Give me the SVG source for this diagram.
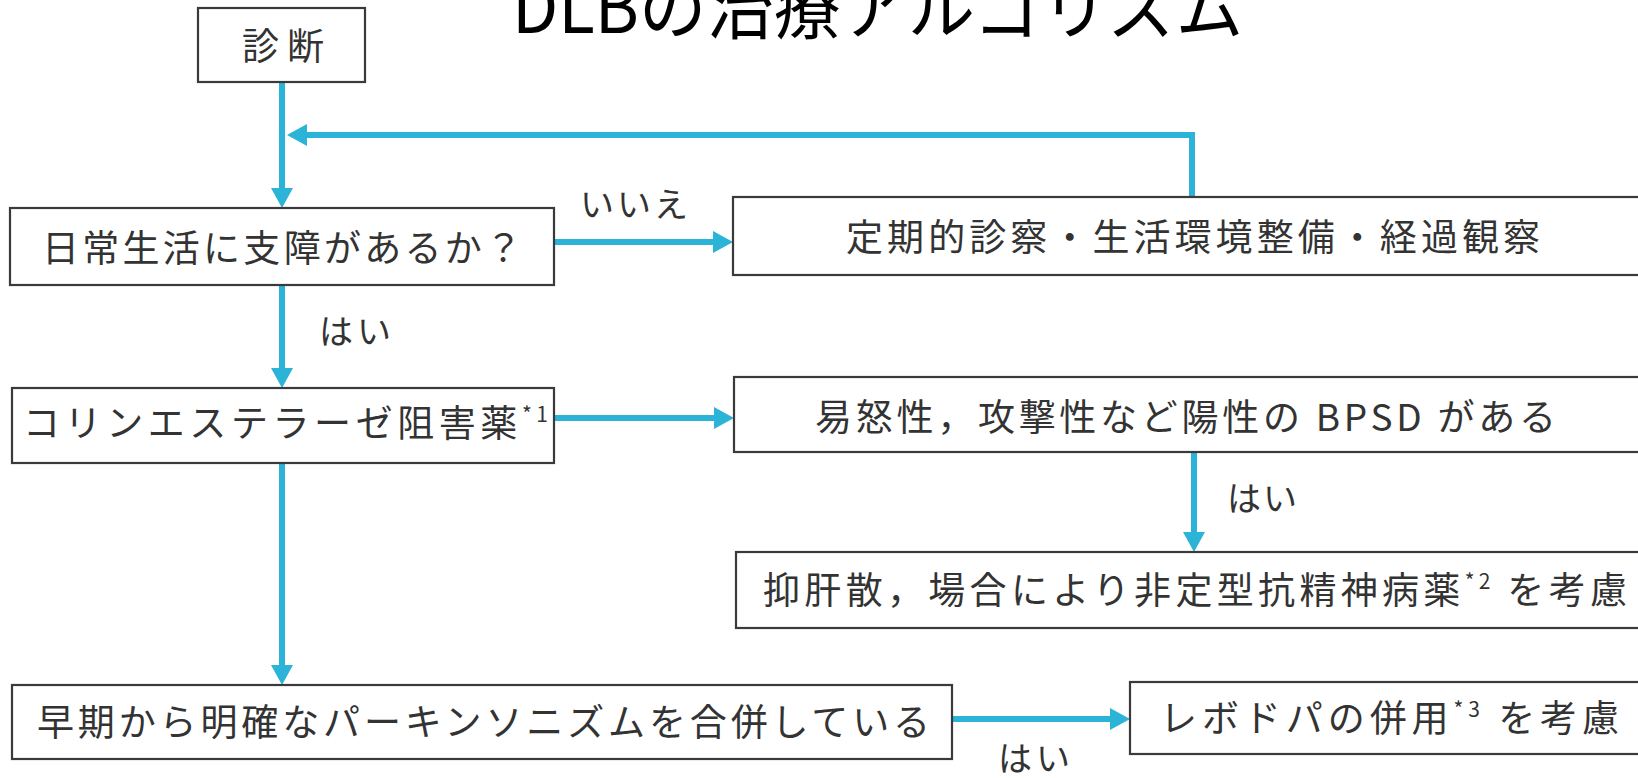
<svg xmlns="http://www.w3.org/2000/svg" width="1638" height="778" viewBox="0 0 1638 778">
<style>
.box{fill:#fff;stroke:#3a3a3a;stroke-width:2.2}
.t{font-family:"Noto Sans CJK JP","Noto Sans",sans-serif;font-size:37px;fill:#333}
.lbl{font-family:"Noto Sans CJK JP","Noto Sans",sans-serif;font-size:34px;fill:#333}
.sup{font-size:21px}
.title{font-family:"Noto Sans CJK JP","Noto Sans",sans-serif;font-size:72px;fill:#000}
.c{fill:none;stroke:#2bb3d8;stroke-width:6}
</style>
<defs>
<marker id="ah" viewBox="0 0 20 22" markerWidth="20" markerHeight="22" refX="2" refY="11" orient="auto" markerUnits="userSpaceOnUse">
<path d="M0,0 L20,11 L0,22 z" fill="#2bb3d8"/>
</marker>
</defs>
<rect width="1638" height="778" fill="#fff"/>
<text class="title" x="512" y="33" textLength="731" lengthAdjust="spacingAndGlyphs">DLBの治療アルゴリズム</text>
<g id="connectors">
<path class="c" d="M282,82 V190" marker-end="url(#ah)"/>
<path class="c" d="M1192,197 V135 H305" marker-end="url(#ah)"/>
<path class="c" d="M554,242 H715" marker-end="url(#ah)"/>
<path class="c" d="M282,285 V370" marker-end="url(#ah)"/>
<path class="c" d="M554,418 H716" marker-end="url(#ah)"/>
<path class="c" d="M1194,452 V534" marker-end="url(#ah)"/>
<path class="c" d="M282,463 V667" marker-end="url(#ah)"/>
<path class="c" d="M952,719 H1112" marker-end="url(#ah)"/>
<text class="lbl" x="580" y="217" textLength="108" lengthAdjust="spacing">いいえ</text>
<text class="lbl" x="319" y="344" textLength="72" lengthAdjust="spacing">はい</text>
<text class="lbl" x="1227" y="511" textLength="70" lengthAdjust="spacing">はい</text>
<text class="lbl" x="998" y="771" textLength="72" lengthAdjust="spacing">はい</text>
</g>
<g id="n-diag">
<rect class="box" x="198" y="8" width="167" height="74"/>
<text class="t" x="242" y="60" textLength="82" lengthAdjust="spacing">診断</text>
</g>
<g id="n-daily">
<rect class="box" x="10" y="208" width="544" height="77"/>
<text class="t" x="42" y="262" textLength="480" lengthAdjust="spacing">日常生活に支障があるか？</text>
</g>
<g id="n-observe">
<rect class="box" x="733" y="197" width="920" height="78"/>
<text class="t" x="846" y="251" textLength="694" lengthAdjust="spacing">定期的診察・生活環境整備・経過観察</text>
</g>
<g id="n-chei">
<rect class="box" x="12" y="388" width="542" height="75"/>
<text class="t" x="23" y="437" textLength="525" lengthAdjust="spacing">コリンエステラーゼ阻害薬<tspan class="sup" dy="-15">*1</tspan></text>
</g>
<g id="n-bpsd">
<rect class="box" x="734" y="377" width="920" height="75"/>
<text class="t" x="815" y="431" textLength="741" lengthAdjust="spacing">易怒性，攻撃性など陽性の BPSD がある</text>
</g>
<g id="n-yokukan">
<rect class="box" x="736" y="552" width="920" height="76"/>
<text class="t" x="763" y="604" textLength="864" lengthAdjust="spacing">抑肝散，場合により非定型抗精神病薬<tspan class="sup" dy="-15">*2</tspan><tspan dy="15"> を考慮</tspan></text>
</g>
<g id="n-parkin">
<rect class="box" x="12" y="685" width="940" height="74"/>
<text class="t" x="37" y="736" textLength="893" lengthAdjust="spacing">早期から明確なパーキンソニズムを合併している</text>
</g>
<g id="n-levodopa">
<rect class="box" x="1130" y="682" width="520" height="72"/>
<text class="t" x="1160" y="732" textLength="459" lengthAdjust="spacing">レボドパの併用<tspan class="sup" dy="-15">*3</tspan><tspan dy="15"> を考慮</tspan></text>
</g>
</svg>
